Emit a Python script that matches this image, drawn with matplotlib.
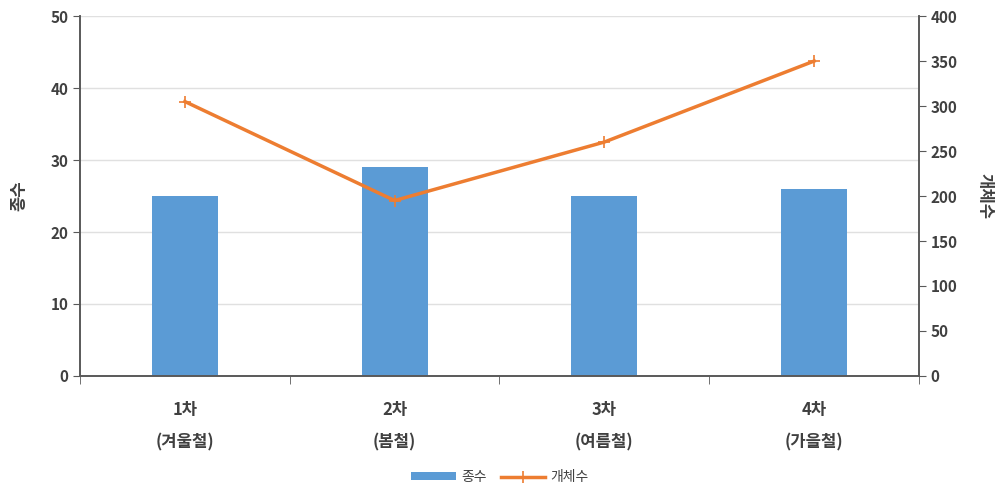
import matplotlib.pyplot as plt
import numpy as np

plt.rcParams['font.family'] = ['Noto Sans CJK KR', 'DejaVu Sans']

# 조사 차수별 종수 / 개체수
categories = ['1차\n(겨울철)', '2차\n(봄철)', '3차\n(여름철)', '4차\n(가을철)']
species = [25, 29, 25, 26]
individuals = [305, 195, 260, 350]

bar_color = '#5B9BD5'
line_color = '#ED7D31'
axis_color = '#595959'
text_color = '#404040'

fig = plt.figure(figsize=(10, 4.87), dpi=100)
ax = fig.add_axes([0.08, 0.228, 0.839, 0.739])
ax2 = ax.twinx()

x = np.arange(len(categories))
ax.bar(x, species, width=0.315, color=bar_color, zorder=2, label='종수')
ax2.plot(x, individuals, color=line_color, lw=2.5, marker='+', ms=8,
         mew=1.2, zorder=3, label='개체수')

ax.set_xlim(-0.5, len(categories) - 0.5)
ax.set_ylim(0, 50)
ax2.set_ylim(0, 400)
ax.set_yticks(range(0, 51, 10))
ax2.set_yticks(range(0, 401, 50))
ax.grid(axis='y', color='#E0E0E0', lw=1, zorder=0)
ax.set_axisbelow(True)

ax.set_xticks(x)
ax.set_xticklabels(categories, fontsize=12, fontweight='bold', color=text_color,
                   linespacing=2.0)
ax.set_xticks(np.arange(-0.5, len(categories), 1.0), minor=True)
ax.tick_params(axis='x', which='major', length=0, pad=18)
ax.tick_params(axis='x', which='minor', length=6, color=axis_color)

for a in (ax, ax2):
    a.tick_params(axis='y', length=5, color=axis_color, labelsize=11,
                  labelcolor=text_color)
    for lbl in a.get_yticklabels():
        lbl.set_fontweight('bold')
    a.spines['top'].set_visible(False)
    for s in ('left', 'right', 'bottom'):
        a.spines[s].set_color(axis_color)
        a.spines[s].set_linewidth(1.2)

ax.set_ylabel('종수', fontsize=12, fontweight='bold', color=text_color, labelpad=16)
ax2.set_ylabel('개체수', fontsize=12, fontweight='bold', color=text_color,
               rotation=-90, labelpad=26)

h1, l1 = ax.get_legend_handles_labels()
h2, l2 = ax2.get_legend_handles_labels()
fig.legend(h1 + h2, l1 + l2, loc='lower center', bbox_to_anchor=(0.5, -0.02),
           ncol=2, frameon=False, fontsize=10, handlelength=3.2,
           handleheight=0.5, columnspacing=1.0, handletextpad=0.4,
           labelcolor=text_color)

fig.savefig('out.png', dpi=100)
